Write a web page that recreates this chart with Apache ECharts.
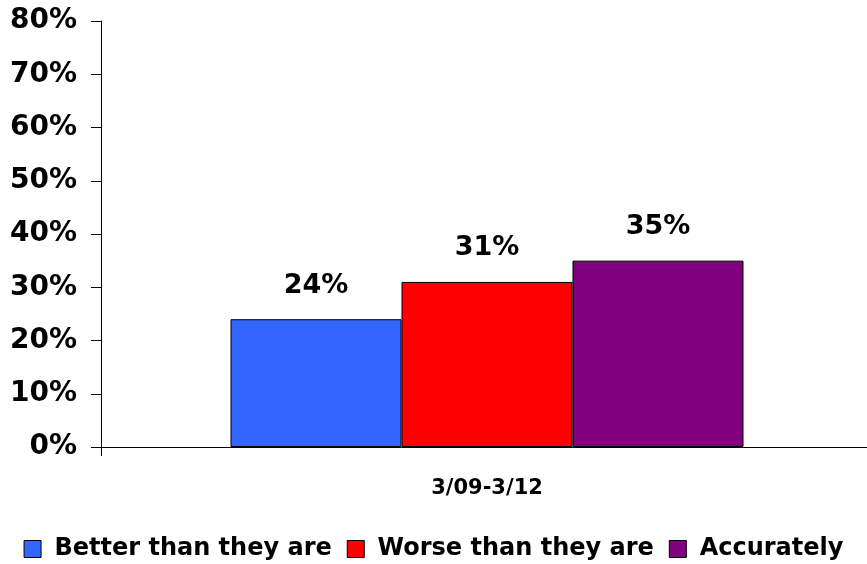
<!DOCTYPE html>
<html><head><meta charset="utf-8">
<script src="https://cdn.jsdelivr.net/npm/echarts@6/dist/echarts.min.js"></script>
<style>html,body{margin:0;padding:0;background:#fff}#c{width:867px;height:564px}</style>
</head><body><div id="c"></div>
<script>
var categories = ['3/09-3/12'];
var seriesNames = ['Better than they are', 'Worse than they are', 'Accurately'];
var betterValues = [24];
var worseValues = [31];
var accurateValues = [35];
var colors = ['#3366FF', '#FF0000', '#800080'];
var yTicks = [0, 10, 20, 30, 40, 50, 60, 70, 80];

var chart = echarts.init(document.getElementById('c'), null, {renderer: 'canvas'});
var font = 'DejaVu Sans, Liberation Sans, Arial, sans-serif';
function mk(name, data, color) {
  return {
    name: name, type: 'bar', data: data, barWidth: 171, barGap: '0%',
    xAxisIndex: 1, yAxisIndex: 1,
    itemStyle: {color: color, borderColor: '#000', borderWidth: 1},
    label: {show: true, position: 'top', distance: 20, formatter: '{c}%',
      fontFamily: font, fontWeight: 'bold', fontSize: 27, color: '#000'}
  };
}
chart.setOption({
  animation: false,
  backgroundColor: '#fff',
  grid: [
    {left: 101, right: 0, top: 21, bottom: 117, containLabel: false},
    {left: 107, right: 0, top: 21, bottom: 117, containLabel: false}
  ],
  legend: {
    bottom: 3, left: 'center', padding: 0, itemWidth: 17, itemHeight: 17, itemGap: 15,
    icon: 'rect',
    formatter: function (n) { return ' ' + n; },
    textStyle: {fontFamily: font, fontWeight: 'bold', fontSize: 24, color: '#000'},
    itemStyle: {borderColor: '#000', borderWidth: 1},
    data: seriesNames
  },
  xAxis: [{
    type: 'category', data: categories, gridIndex: 0,
    axisLine: {lineStyle: {color: '#000', width: 1}},
    axisTick: {show: true, inside: false, length: 9, lineStyle: {color: '#000'}},
    axisLabel: {show: false}
  }, {
    type: 'category', data: categories, gridIndex: 1,
    axisLine: {show: false}, axisTick: {show: false},
    axisLabel: {fontFamily: font, fontWeight: 'bold', fontSize: 21, color: '#000', margin: 31}
  }],
  yAxis: [{
    type: 'value', min: 0, max: 80, interval: 10, gridIndex: 0,
    axisLine: {show: true, lineStyle: {color: '#000', width: 1}},
    axisTick: {show: true, length: 10, lineStyle: {color: '#000'}},
    splitLine: {show: false},
    axisLabel: {formatter: '{value}%', fontFamily: font, fontWeight: 'bold', fontSize: 28, color: '#000', margin: 24}
  }, {
    type: 'value', min: 0, max: 80, interval: 10, gridIndex: 1,
    axisLine: {show: false}, axisTick: {show: false}, axisLabel: {show: false},
    splitLine: {show: false}
  }],
  series: [
    mk(seriesNames[0], betterValues, colors[0]),
    mk(seriesNames[1], worseValues, colors[1]),
    mk(seriesNames[2], accurateValues, colors[2])
  ]
});
</script></body></html>
